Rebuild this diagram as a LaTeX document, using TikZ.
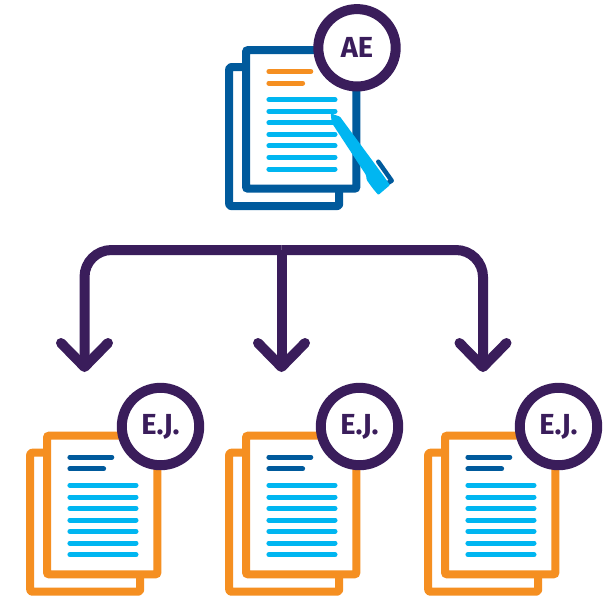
\documentclass[tikz,border=0pt]{standalone}
\usepackage{fontspec}
\setmainfont{Fira Sans}[BoldFont={Fira Sans Bold}]
\usetikzlibrary{arrows.meta}
\definecolor{plum}{HTML}{3A1D5B}
\definecolor{navy}{HTML}{005A9C}
\definecolor{amber}{HTML}{F58F21}
\definecolor{sky}{HTML}{00B6F1}
\tikzset{
  page/.style={draw=#1,line width=8pt,rounded corners=2pt,fill=white,minimum width=110.4pt,minimum height=138.6pt,inner sep=0pt},
  backpage/.style={draw=#1,line width=8pt,rounded corners=2pt,line join=round},
  textline/.style={draw=#1,line width=5pt,line cap=round},
  badge/.style={draw=plum,line width=10pt,fill=white,circle,minimum size=77.4pt,inner sep=0pt,text=plum,font=\bfseries\fontsize{29pt}{29pt}\selectfont},
  conn/.style={draw=plum,line width=10pt,rounded corners=27pt,-{Straight Barb[length=24pt,width=47pt,round,line width=10pt]}},
}
\newcommand{\docset}[7]{%
  % #1 x of page centre, #2 y of page centre, #3 name, #4 page colour, #5 heading colour, #6 label, #7 badge offset
  \begin{scope}[shift={(#1,#2)}]
    \draw[backpage=#4] (-55,-52.3) -- (-72,-52.3) -- (-72,86.7) -- (38,86.7) -- (38,72);
    \node[page=#4] (#3) at (0,0) {};
    \draw[textline=#5] (-32.3,-47.9) -- (9.6,-47.9);
    \draw[textline=#5] (-32.3,-36.2) -- (1.4,-36.2);
    \foreach \yy in {-19.7,-8,3.4,15,26.4,38,49.6}
      \draw[textline=sky] (-32.3,\yy) -- (33.8,\yy);
  \end{scope}
}
\begin{document}
\begin{tikzpicture}[x=1pt,y=-1pt]
\useasboundingbox[fill=white] (0,0) rectangle (607,595);
% top document
\docset{301.2}{119.4}{top}{navy}{amber}{AE}{}
\draw[line width=4.5pt,draw=navy,line cap=round,line join=round] (378.3,161.7) -- (391.7,180.7) -- (384.3,185);
\fill[sky,rounded corners=1pt] (330.7,113.3) -- (340,116.7) -- (381.7,173.3) -- (390,185) -- (378.3,195) -- (372.7,188.3) -- (366.7,180) -- (366,175) -- (331.7,122.7) -- cycle;
\node[badge] (topbadge) at (357,47.8) {AE};
% bottom documents
\docset{102.2}{505}{docL}{amber}{navy}{E.J.}{}
\docset{301.2}{505}{docM}{amber}{navy}{E.J.}{}
\docset{500.2}{505}{docR}{amber}{navy}{E.J.}{}
\node[badge] (badgeL) at (160.5,426.5) {E.J.};
\node[badge] (badgeM) at (359.5,426.5) {E.J.};
\node[badge] (badgeR) at (558.5,426.5) {E.J.};
% connectors
\coordinate (hub) at (281.5,250);
\coordinate (endL) at (84.5,372);
\coordinate (endM) at (281.5,372);
\coordinate (endR) at (483,372);
\draw[conn] (hub) -| (endL);
\draw[conn] (hub) -- (endM);
\draw[conn] (hub) -| (endR);
\end{tikzpicture}
\end{document}
